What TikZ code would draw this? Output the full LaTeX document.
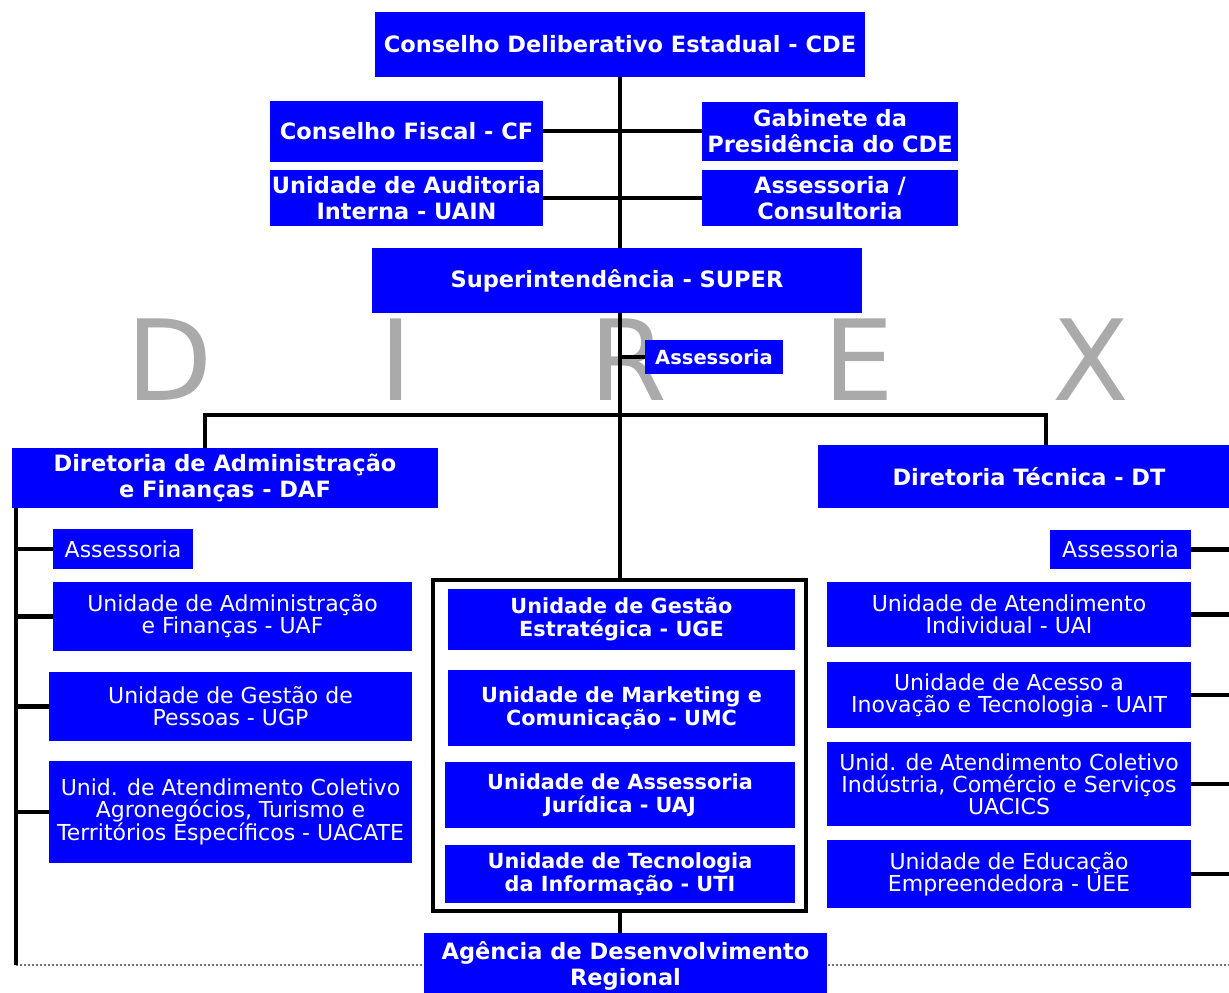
\documentclass[tikz,border=0pt]{standalone}
\usepackage{fontspec}
\setmainfont{DejaVu Sans}
\definecolor{unitblue}{RGB}{0,0,255}
\definecolor{direxgray}{RGB}{170,170,170}

\begin{document}
\begin{tikzpicture}[x=1pt,y=-1pt,
  head/.style={fill=unitblue,text=white,inner sep=0pt,align=center,
               font=\bfseries\fontsize{22.5}{26}\selectfont},
  unit/.style={fill=unitblue,text=white,inner sep=0pt,align=center,
               font=\fontsize{22}{22}\selectfont},
  core/.style={fill=unitblue,text=white,inner sep=0pt,align=center,
               font=\bfseries\fontsize{20.8}{23}\selectfont},
  wh/.style 2 args={minimum width=#1pt,minimum height=#2pt},
  frame/.style={draw,line width=4pt,inner sep=0pt},
  link/.style={line width=4.5pt},
  direx/.style={text=direxgray,anchor=base,inner sep=0pt,
                font=\fontsize{112}{112}\selectfont}
]
\clip (0,0) rectangle (1229,993);
\fill[white] (0,0) rectangle (1229,993);

% DIREX letters behind everything
\foreach \l/\x in {D/170,I/396,R/628,E/859,X/1091}
  \node[direx] (dx\l) at (\x,400) {\l};

% spine points
\coordinate (barl)   at (205,415);
\coordinate (barr)   at (1046,415);
\coordinate (lspine) at (16,965);
\coordinate (rspine) at (1229,965);

\draw[black!55,line width=2pt,dash pattern=on 2pt off 2pt] (lspine)--(rspine);

% top
\node[head,wh={490}{65}]  (cde)     at (620,44.5) {Conselho Deliberativo Estadual - CDE};
\node[head,wh={273}{61}]  (cf)      at (406.5,131) {Conselho Fiscal - CF};
\node[head,wh={256}{59}]  (gab)     at (830,131) {Gabinete da\\Presidência do CDE};
\node[head,wh={273}{56}]  (uain)    at (406.5,198) {Unidade de Auditoria\\Interna - UAIN};
\node[head,wh={256}{56}]  (asscons) at (830,198) {Assessoria /\\Consultoria};
\node[head,wh={490}{65}]  (super)   at (617,280.5) {Superintendência - SUPER};
\node[core,wh={138}{34},font=\bfseries\fontsize{19.5}{20}\selectfont]
                          (asssup)  at (714,357) {Assessoria};

% directorates
\node[head,wh={426}{60}]  (daf) at (225,478) {Diretoria de Administração\\e Finanças - DAF};
\node[head,wh={422}{63}]  (dt)  at (1029,476.5) {Diretoria Técnica - DT};

% DAF units
\node[unit,wh={140}{40}]  (assdaf) at (123,549) {Assessoria};
\node[unit,wh={359}{69}]  (uaf)    at (232.5,616.5) {Unidade de Administração\\e Finanças - UAF};
\node[unit,wh={363}{69}]  (ugp)    at (230.5,706.5) {Unidade de Gestão de\\Pessoas - UGP};
\node[unit,wh={363}{102}] (uacate) at (230.5,812) {Unid. de Atendimento Coletivo\\Agronegócios, Turismo e\\Territórios Específicos - UACATE};

% central units
\node[frame,wh={373}{331}] (core) at (619.5,745.5) {};
\node[core,wh={347}{61}]  (uge) at (621.5,619.5) {Unidade de Gestão\\Estratégica - UGE};
\node[core,wh={347}{76}]  (umc) at (621.5,708) {Unidade de Marketing e\\Comunicação - UMC};
\node[core,wh={350}{66}]  (uaj) at (620,795) {Unidade de Assessoria\\Jurídica - UAJ};
\node[core,wh={350}{58}]  (uti) at (620,874) {Unidade de Tecnologia\\da Informação - UTI};
\node[head,wh={403}{66}]  (adr) at (625.5,966) {Agência de Desenvolvimento\\Regional};

% DT units
\node[unit,wh={141}{39}]  (assdt)  at (1120.5,549.5) {Assessoria};
\node[unit,wh={364}{65}]  (uai)    at (1009,614.5) {Unidade de Atendimento\\Individual - UAI};
\node[unit,wh={364}{66}]  (uait)   at (1009,695) {Unidade de Acesso a\\Inovação e Tecnologia - UAIT};
\node[unit,wh={364}{84}]  (uacics) at (1009,784) {Unid. de Atendimento Coletivo\\Indústria, Comércio e Serviços\\UACICS};
\node[unit,wh={364}{68}]  (uee)    at (1009,874) {Unidade de Educação\\Empreendedora - UEE};

% connectors
\draw[link] (cde.south)--(cde.south |- super.north);
\draw[link] (cf.east)--(gab.west);
\draw[link] (uain.east)--(asscons.west);
\draw[link] (super.south -| cde.south)--(core.north -| cde.south);
\draw[link] (asssup.west -| cde.south)--(asssup.west);
\draw[link] (daf.north -| barl)--(barl)--(barr)--(dt.north -| barr);
\draw[link] (daf.south -| lspine)--(lspine);
\foreach \n in {assdaf,uaf,ugp,uacate}
  \draw[link] (\n.west)--(\n.west -| lspine);
\foreach \n in {assdt,uai,uait,uacics,uee}
  \draw[link] (\n.east)--(\n.east -| rspine);
\draw[link] (core.south -| cde.south)--(adr.north -| cde.south);
\end{tikzpicture}
\end{document}
